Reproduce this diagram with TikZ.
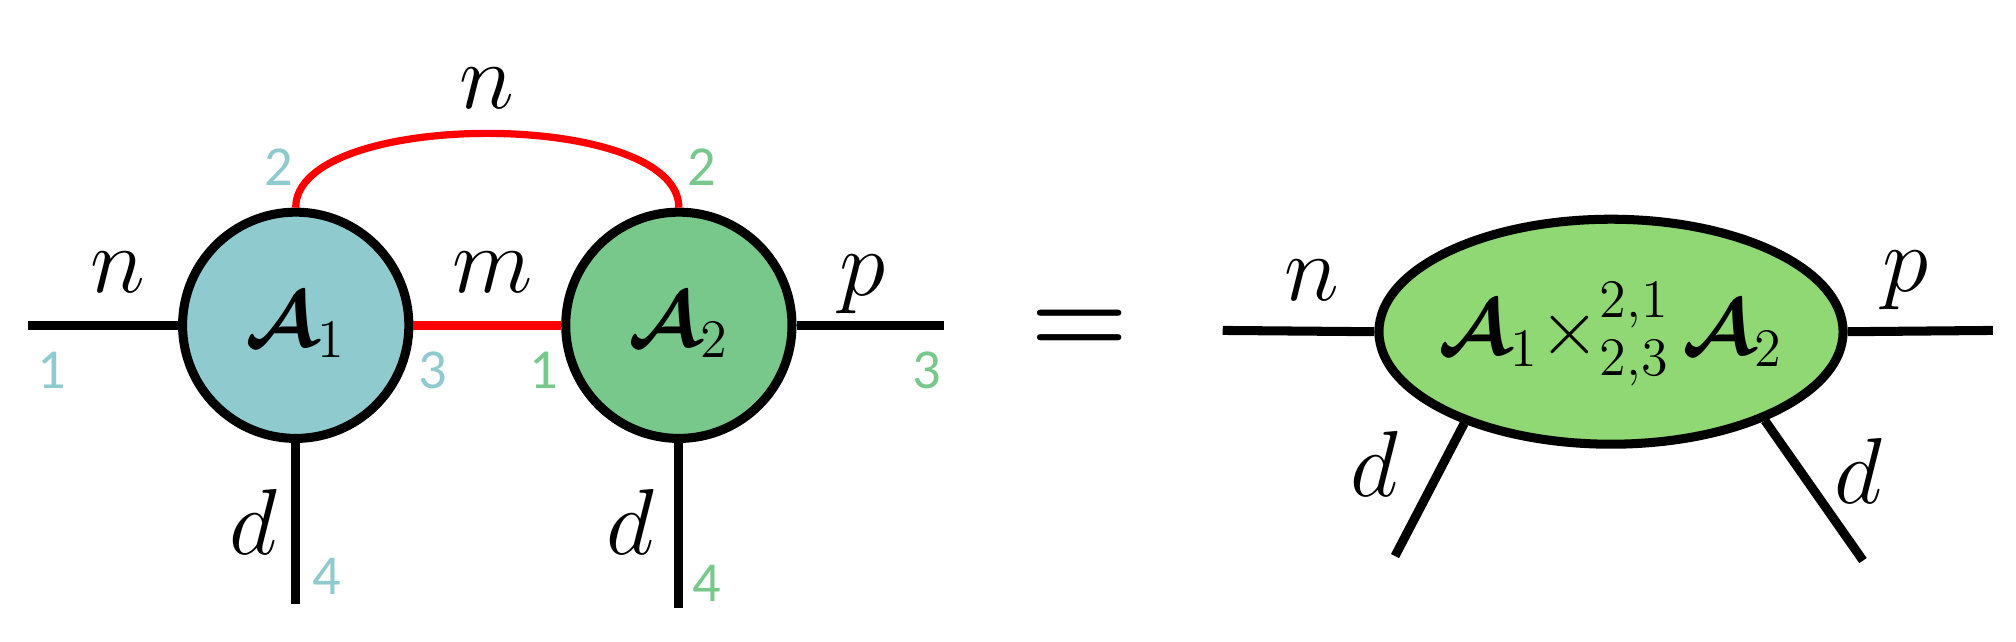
\documentclass[tikz,border=0pt]{standalone}
\usepackage{amsmath,bm}
\usepackage{fontspec}
\usetikzlibrary{shapes.geometric}
\newfontfamily\digitfont{Carlito}
\definecolor{tealA}{HTML}{8ECACE}
\definecolor{greenA}{HTML}{78C88C}
\definecolor{greenC}{HTML}{90D874}
\tikzset{
  tensor/.style={circle, draw, line width=2pt, minimum size=1.76cm, inner sep=0pt,
    font=\fontsize{18.5}{20}\selectfont},
  leg/.style={line width=2pt},
  bond/.style={line width=2pt, red},
  dimlabel/.style={font=\fontsize{21}{25}\selectfont, inner sep=0pt},
  idxteal/.style={font=\digitfont\fontsize{12.5}{14}\selectfont, text=tealA, inner sep=0pt},
  idxgreen/.style={font=\digitfont\fontsize{12.5}{14}\selectfont, text=greenA, inner sep=0pt}
}
\begin{document}
\begin{tikzpicture}
\useasboundingbox ( 0, 0 ) rectangle ( 15.68, 4.99 );

% Tensors
\node [tensor, fill=tealA] (A1) at ( 2.30, 2.46 ) {$\bm{\mathcal{A}}_1$};
\node [tensor, fill=greenA] (A2) at ( 5.28, 2.46 ) {$\bm{\mathcal{A}}_2$};

% Free ends
\coordinate (in1) at ( 0.22, 2.46 );
\coordinate (out2) at ( 7.34, 2.46 );
\coordinate (down1) at ( 2.30, 0.29 );
\coordinate (down2) at ( 5.28, 0.26 );

% Legs
\draw [leg] (in1) -- (A1.west);
\draw [leg] (A2.east) -- (out2);
\draw [leg] (A1.south) -- (down1);
\draw [leg] (A2.south) -- (down2);

% Contracted legs
\draw [bond] (A1.east) -- (A2.west);
\draw [bond, line width=1.6pt] (A1.north) .. controls +( 0, 0.77 ) and +( 0, 0.77 ) .. (A2.north);

% Dimensions
\node [dimlabel] (nA) at ( 0.92, 2.87 ) {$n$};
\node [dimlabel] (mA) at ( 3.83, 2.87 ) {$m$};
\node [dimlabel] (pA) at ( 6.71, 2.78 ) {$p$};
\node [dimlabel] (nTop) at ( 3.79, 4.30 ) {$n$};
\node [dimlabel] (dA1) at ( 1.97, 0.93 ) {$d$};
\node [dimlabel] (dA2) at ( 4.90, 0.93 ) {$d$};

% Mode indices
\node [idxteal] (i11) at ( 0.40, 2.11 ) {1};
\node [idxteal] (i12) at ( 2.17, 3.69 ) {2};
\node [idxteal] (i13) at ( 3.37, 2.11 ) {3};
\node [idxteal] (i14) at ( 2.54, 0.51 ) {4};
\node [idxgreen] (i21) at ( 4.23, 2.11 ) {1};
\node [idxgreen] (i22) at ( 5.46, 3.69 ) {2};
\node [idxgreen] (i23) at ( 7.21, 2.11 ) {3};
\node [idxgreen] (i24) at ( 5.50, 0.45 ) {4};

\node [font=\fontsize{26}{30}\selectfont] (eq) at ( 8.40, 2.41 ) {$\bm{=}$};

% Result
\node [ellipse, draw, line width=2pt, fill=greenC, minimum width=3.61cm, minimum height=1.75cm,
  inner sep=0pt] (C) at ( 12.53, 2.41 ) {};
\node [font=\fontsize{17.5}{20}\selectfont, inner sep=0pt] (Clabel) at ( 12.53, 2.39 )
  {$\bm{\mathcal{A}}_1{\times}^{2,1}_{2,3}\,\bm{\mathcal{A}}_2$};

\coordinate (inC) at ( 9.51, 2.42 );
\coordinate (outC) at ( 15.50, 2.42 );
\coordinate (downC1) at ( 10.85, 0.665 );
\coordinate (downC2) at ( 14.49, 0.63 );

\draw [leg] (inC) -- (C.west);
\draw [leg] (C.east) -- (outC);
\draw [leg] (C.212) -- (downC1);
\draw [leg] (C.330) -- (downC2);

\node [dimlabel] (nC) at ( 10.20, 2.81 ) {$n$};
\node [dimlabel] (pC) at ( 14.82, 2.81 ) {$p$};
\node [dimlabel] (dC1) at ( 10.69, 1.38 ) {$d$};
\node [dimlabel] (dC2) at ( 14.45, 1.33 ) {$d$};

\end{tikzpicture}
\end{document}
